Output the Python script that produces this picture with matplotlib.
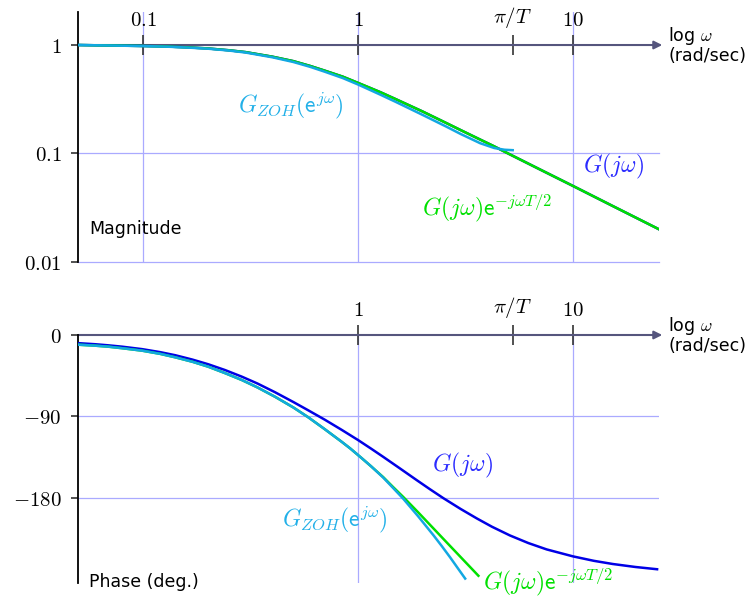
import numpy as np
import matplotlib
matplotlib.use("Agg")
import matplotlib.pyplot as plt
from matplotlib.ticker import NullLocator, FixedLocator, FixedFormatter

plt.rcParams['mathtext.fontset'] = 'cm'
plt.rcParams['font.family'] = ['DejaVu Sans']

# ---------------- data ----------------
pi_over_T = 5.24

x_ticks = [0.1, 1.0, pi_over_T, 10.0]
x_tick_labels = [r'$0.1$', r'$1$', r'$\pi/T$', r'$10$']
x_ticks_phase = [1.0, pi_over_T, 10.0]
x_tick_labels_phase = [r'$1$', r'$\pi/T$', r'$10$']

mag_ticks = [0.01, 0.1, 1.0]
mag_tick_labels = [r'$0.01$', r'$0.1$', r'$1$']
phase_ticks = [0, -90, -180]
phase_tick_labels = [r'$0$', r'$-90$', r'$-180$']

# magnitude of G(jw) (and G(jw)e^{-jwT/2}, identical magnitude)
omega_mag = [0.05, 0.07, 0.1, 0.13, 0.16, 0.2, 0.25, 0.3, 0.4, 0.5, 0.6,
             0.7, 0.85, 1.0, 1.27, 1.5, 2.0, 2.58, 3.0, 3.7, 4.3, 5.0, 7.0,
             10.0, 15.0, 25.0]
mag_G = [1.0, 0.99, 0.98, 0.968, 0.952, 0.93, 0.895, 0.86, 0.78, 0.71, 0.64,
         0.58, 0.51, 0.447, 0.367, 0.316, 0.243, 0.19, 0.164, 0.134, 0.116,
         0.0995, 0.0712, 0.05, 0.0333, 0.020]
mag_G_delay = [1.0, 0.99, 0.98, 0.968, 0.952, 0.93, 0.895, 0.86, 0.78, 0.71,
               0.64, 0.58, 0.51, 0.447, 0.367, 0.316, 0.243, 0.19, 0.164,
               0.134, 0.116, 0.0995, 0.0712, 0.05, 0.0333, 0.020]

# magnitude of G_ZOH(e^{jw}) up to pi/T
omega_mag_zoh = [0.05, 0.07, 0.1, 0.13, 0.16, 0.2, 0.25, 0.3, 0.4, 0.5, 0.6,
                 0.7, 0.85, 1.0, 1.27, 1.5, 2.0, 2.58, 3.0, 3.7, 4.3, 4.8,
                 5.24]
mag_zoh = [1.0, 0.99, 0.978, 0.965, 0.948, 0.925, 0.89, 0.852, 0.77, 0.697,
           0.628, 0.567, 0.495, 0.432, 0.348, 0.298, 0.226, 0.176, 0.151,
           0.124, 0.112, 0.108, 0.107]

# phase of G(jw)
omega_ph_G = [0.05, 0.06, 0.069, 0.08, 0.099, 0.12, 0.141, 0.17, 0.201, 0.24,
              0.288, 0.34, 0.411, 0.5, 0.587, 0.7, 0.84, 1.0, 1.15, 1.31,
              1.55, 1.875, 2.15, 2.49, 3.0, 3.57, 4.2, 5.09, 6.2, 7.54, 10.0,
              12.5, 15.3, 19.5, 24.6]
ph_G = [-9.0, -10.2, -11.4, -12.9, -15.6, -18.9, -22.3, -27.2, -32.3, -38.6,
        -46.0, -53.5, -63.2, -74.0, -83.2, -93.5, -104.8, -116.0, -125.5,
        -134.6, -146.6, -160.3, -170.0, -180.1, -192.1, -202.6, -211.8,
        -221.4, -229.8, -236.8, -244.5, -249.4, -252.9, -256.2, -258.7]

# phase of G(jw)e^{-jwT/2}
omega_ph_delay = [0.05, 0.06, 0.069, 0.08, 0.099, 0.12, 0.141, 0.17, 0.201,
                  0.24, 0.288, 0.34, 0.411, 0.5, 0.587, 0.7, 0.84, 0.92, 1.04,
                  1.15, 1.31, 1.45, 1.625, 1.9, 2.24, 2.55, 2.88, 3.25, 3.63]
ph_delay = [-10.7, -11.8, -12.9, -14.6, -17.3, -20.8, -24.6, -29.6, -35.0,
            -42.0, -49.7, -57.8, -68.2, -80.0, -90.9, -104.0, -118.0, -125.3,
            -136.0, -145.0, -157.0, -167.5, -179.0, -195.6, -213.5, -227.6,
            -240.8, -253.9, -265.9]

# phase of G_ZOH(e^{jw})
omega_ph_zoh = [0.05, 0.06, 0.069, 0.08, 0.099, 0.12, 0.141, 0.17, 0.201,
                0.24, 0.288, 0.34, 0.411, 0.5, 0.587, 0.7, 0.84, 0.92, 1.04,
                1.15, 1.31, 1.45, 1.625, 1.9, 2.24, 2.45, 2.68, 2.9, 3.15]
ph_zoh = [-10.7, -11.8, -12.9, -14.6, -17.3, -20.8, -24.6, -29.6, -35.0,
          -42.0, -49.7, -57.8, -68.2, -80.0, -90.9, -104.0, -118.0, -125.3,
          -136.0, -145.0, -157.5, -168.5, -181.0, -200.0, -221.0, -233.0,
          -245.5, -257.0, -269.0]

# ---------------- style ----------------
C_BLUE = '#0000e6'
C_GREEN = '#00e000'
C_CYAN = '#12a8e2'
C_BLUE_TXT = '#2b2bff'
C_CYAN_TXT = '#22b0e8'
C_GRID = '#aaaaff'
C_AXIS = '#55557d'
LW = 1.8
FS_LBL = 17
FS_TICK = 15
FS_TXT = 12.5

W, H = 755, 598
fig = plt.figure(figsize=(W / 100, H / 100), dpi=100)


def frac_box(x0, x1, ytop, ybot):
    return [x0 / W, 1 - ybot / H, (x1 - x0) / W, (ybot - ytop) / H]


ax1 = fig.add_axes(frac_box(78.3, 658.6, 12.4, 261.7))
ax2 = fig.add_axes(frac_box(78.3, 658.6, 335.0, 583.1))

XMIN, XMAX = 0.05, 25.0

ax1.set_yscale('log')
ax1.set_ylim(0.01, 2.0)
ax2.set_ylim(-274, 0)

for ax in (ax1, ax2):
    ax.set_xscale('log')
    ax.set_xlim(XMIN, XMAX)
    ax.patch.set_visible(False)
    for s in ('right', 'bottom', 'top'):
        ax.spines[s].set_visible(False)
    ax.spines['left'].set_linewidth(1.3)
    ax.spines['left'].set_color('black')
    ax.xaxis.set_ticks_position('top')
    ax.tick_params(axis='x', direction='inout', length=15, width=1.2,
                   color='#333333', pad=3, labelsize=FS_TICK)
    ax.tick_params(axis='y', direction='out', length=5, width=1.2,
                   color='#333333', pad=7, labelsize=FS_TICK)

# ---------------- magnitude ----------------
ax1.spines['top'].set_position(('data', 1.0))
ax1.xaxis.set_major_locator(FixedLocator(x_ticks))
ax1.xaxis.set_major_formatter(FixedFormatter(x_tick_labels))
ax1.yaxis.set_major_locator(FixedLocator(mag_ticks))
ax1.yaxis.set_major_formatter(FixedFormatter(mag_tick_labels))

for xv in (0.1, 1.0, 10.0):
    ax1.axvline(xv, color=C_GRID, lw=0.9, zorder=0)
for yv in (0.1, 0.01):
    ax1.axhline(yv, color=C_GRID, lw=0.9, zorder=0, clip_on=False)

ax1.plot(omega_mag, mag_G, color=C_BLUE, lw=LW, zorder=3)
ax1.plot(omega_mag, mag_G_delay, color=C_GREEN, lw=LW, zorder=4)
ax1.plot(omega_mag_zoh, mag_zoh, color=C_CYAN, lw=LW, zorder=5)

ax1.annotate('', xy=(26.0, 1.0), xytext=(XMIN, 1.0),
             arrowprops=dict(arrowstyle='-|>', color=C_AXIS, lw=1.5,
                             mutation_scale=12, shrinkA=0, shrinkB=0),
             annotation_clip=False, zorder=2)

ax1.text(0.488, 0.273, r'$G_{ZOH}(\mathsf{e}^{j\omega})$', color=C_CYAN_TXT,
         fontsize=FS_LBL, ha='center', va='center')
ax1.text(15.35, 0.0763, r'$G(j\omega)$', color=C_BLUE_TXT,
         fontsize=FS_LBL, ha='center', va='center')
ax1.text(3.98, 0.0313, r'$G(j\omega)\mathsf{e}^{-j\omega T/2}$',
         color=C_GREEN, fontsize=FS_LBL, ha='center', va='center')
ax1.text(0.0561, 0.02, 'Magnitude', fontsize=FS_TXT, ha='left', va='center')
ax1.text(27.7, 1.0, 'log $\\omega$\n(rad/sec)', fontsize=FS_TXT,
         ha='left', va='center', linespacing=1.0)

# ---------------- phase ----------------
ax2.spines['top'].set_position(('data', 0.0))
ax2.xaxis.set_major_locator(FixedLocator(x_ticks_phase))
ax2.xaxis.set_major_formatter(FixedFormatter(x_tick_labels_phase))
ax2.yaxis.set_major_locator(FixedLocator(phase_ticks))
ax2.yaxis.set_major_formatter(FixedFormatter(phase_tick_labels))

for ax in (ax1, ax2):
    ax.xaxis.set_minor_locator(NullLocator())
    ax.yaxis.set_minor_locator(NullLocator())

for xv in (1.0, 10.0):
    ax2.axvline(xv, color=C_GRID, lw=0.9, zorder=0)
for yv in (-90, -180):
    ax2.axhline(yv, color=C_GRID, lw=0.9, zorder=0)

ax2.plot(omega_ph_G, ph_G, color=C_BLUE, lw=LW, zorder=3)
ax2.plot(omega_ph_delay, ph_delay, color=C_GREEN, lw=LW, zorder=4)
ax2.plot(omega_ph_zoh, ph_zoh, color=C_CYAN, lw=LW, zorder=5)

ax2.annotate('', xy=(26.0, 0.0), xytext=(XMIN, 0.0),
             arrowprops=dict(arrowstyle='-|>', color=C_AXIS, lw=1.5,
                             mutation_scale=12, shrinkA=0, shrinkB=0),
             annotation_clip=False, zorder=2)

ax2.text(3.05, -144.6, r'$G(j\omega)$', color=C_BLUE_TXT,
         fontsize=FS_LBL, ha='center', va='center')
ax2.text(0.782, -204.3, r'$G_{ZOH}(\mathsf{e}^{j\omega})$', color=C_CYAN_TXT,
         fontsize=FS_LBL, ha='center', va='center')
ax2.text(7.65, -272.7, r'$G(j\omega)\mathsf{e}^{-j\omega T/2}$',
         color=C_GREEN, fontsize=FS_LBL, ha='center', va='center',
         clip_on=False)
ax2.text(0.0561, -272.7, 'Phase (deg.)', fontsize=FS_TXT, ha='left',
         va='center')
ax2.text(27.7, 0.0, 'log $\\omega$\n(rad/sec)', fontsize=FS_TXT,
         ha='left', va='center', linespacing=1.0)

fig.savefig('out.png', dpi=100)
